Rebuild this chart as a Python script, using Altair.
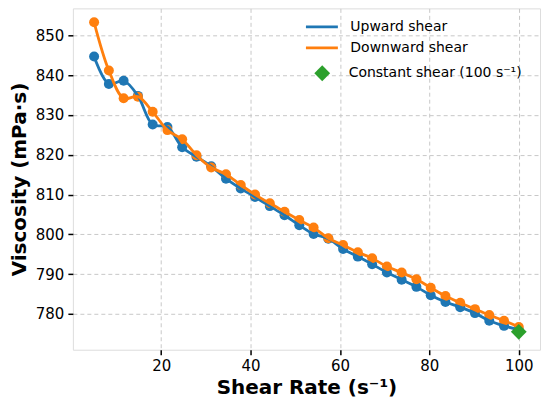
import altair as alt
import pandas as pd

shear_rate = [5.0, 8.3, 11.6, 14.8, 18.1, 21.4, 24.7, 27.9, 31.2, 34.5,
              37.8, 41.0, 44.3, 47.6, 50.9, 54.1, 57.4, 60.7, 64.0, 67.2,
              70.5, 73.8, 77.1, 80.3, 83.6, 86.9, 90.2, 93.4, 96.7, 100.0]
upward = [844.7, 837.8, 838.6, 834.8, 827.6, 827.0, 821.9, 819.5, 817.1, 814.0,
          811.5, 809.4, 807.1, 804.8, 802.3, 800.1, 798.9, 796.3, 794.4, 792.5,
          790.4, 788.6, 786.8, 784.7, 783.0, 781.7, 780.2, 778.3, 777.0, 776.0]
downward = [853.3, 841.2, 834.2, 834.6, 830.8, 826.2, 823.9, 819.9, 816.8, 815.1,
            812.4, 810.0, 807.8, 805.7, 803.6, 801.7, 799.0, 797.3, 795.5, 794.0,
            791.9, 790.4, 788.7, 786.6, 784.5, 782.8, 781.2, 779.7, 778.3, 776.7]
const_x = [100.0]
const_y = [775.5]

series_names = ["Upward shear", "Downward shear"]
const_name = "Constant shear (100 s\u207b\u00b9)"
x_ticks = [20, 40, 60, 80, 100]
y_ticks = [780, 790, 800, 810, 820, 830, 840, 850]

blue = "#1f77b4"
orange = "#ff7f0e"
green = "#2ca02c"
FONT = "DejaVu Sans"

df = pd.DataFrame({
    "x": shear_rate + shear_rate,
    "y": upward + downward,
    "series": [series_names[0]] * len(upward) + [series_names[1]] * len(downward),
})
dfc = pd.DataFrame({"x": const_x, "y": const_y, "series": [const_name]})

xs = alt.Scale(domain=[0.25, 104.75], nice=False, zero=False)
ys = alt.Scale(domain=[771.0, 856.8], nice=False, zero=False)

axis_common = dict(
    grid=True, gridDash=[4, 3], gridColor="#c8c8c8", gridWidth=1,
    domain=False, ticks=True, tickColor="black", tickWidth=1.5, tickSize=5,
    labelFont=FONT, labelFontSize=15, labelColor="black",
    titleFont=FONT, titleFontSize=20, titleFontWeight="bold", titleColor="black",
)
xaxis = alt.Axis(values=x_ticks, title="Shear Rate (s\u207b\u00b9)", labelPadding=4,
                 titlePadding=4, **axis_common)
yaxis = alt.Axis(values=y_ticks, title="Viscosity (mPa\u00b7s)", labelPadding=4,
                 titlePadding=6, **axis_common)

X = alt.X("x:Q", scale=xs, axis=xaxis)
Y = alt.Y("y:Q", scale=ys, axis=yaxis)

points_up = alt.Chart(df).transform_filter(
    alt.datum.series == series_names[0]
).mark_circle(size=100, opacity=1, color=blue).encode(x=X, y=Y)

points_down = alt.Chart(df).transform_filter(
    alt.datum.series == series_names[1]
).mark_circle(size=100, opacity=1, color=orange).encode(x=X, y=Y)

lines = alt.Chart(df).mark_line(interpolate="catmull-rom", strokeWidth=2.8).encode(
    x=X, y=Y,
    color=alt.Color("series:N", scale=alt.Scale(domain=series_names, range=[blue, orange]),
                    legend=alt.Legend(title=None, orient="none", legendX=238, legendY=7,
                                      symbolType="M-1.6,0H1.6", symbolSize=400,
                                      symbolStrokeWidth=2.8, rowPadding=2,
                                      labelOffset=17, labelFont=FONT, labelFontSize=14,
                                      labelColor="black", labelLimit=0)),
)

const = alt.Chart(dfc).mark_point(shape="diamond", filled=True, size=250, opacity=1,
                                  color=green).encode(
    x=X, y=Y,
    shape=alt.Shape("series:N", scale=alt.Scale(domain=[const_name], range=["diamond"]),
                    legend=alt.Legend(title=None, orient="none", legendX=240.8, legendY=56,
                                      symbolSize=250, symbolFillColor=green,
                                      symbolStrokeColor=green, symbolOpacity=1,
                                      labelOffset=17.5, labelFont=FONT, labelFontSize=14,
                                      labelColor="black", labelLimit=0)),
)

chart = alt.layer(points_up, points_down, lines, const).properties(
    width=468, height=342,
    autosize=alt.AutoSizeParams(type="none"),
    padding={"left": 65, "top": 0, "right": 2, "bottom": 48},
).configure_view(stroke="black", strokeWidth=2).configure(background="white")

chart.save("out.html", embed_options={"renderer": "svg", "actions": False})
